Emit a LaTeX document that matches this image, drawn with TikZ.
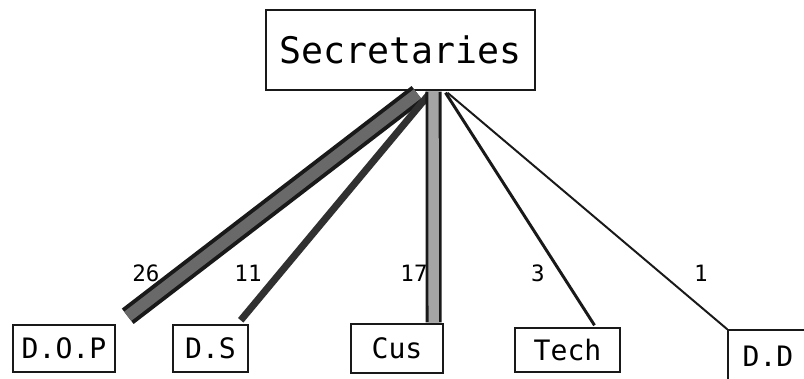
\documentclass[tikz,border=0pt]{standalone}
\usepackage{fontspec}
\setmonofont{DejaVu Sans Mono}
\usetikzlibrary{calc}
\definecolor{inkBlack}{RGB}{25,25,25}
\definecolor{bandDark}{RGB}{105,105,105}
\definecolor{bandLight}{RGB}{165,165,165}
\tikzset{
  orgbox/.style={draw=inkBlack, line width=1pt, inner sep=0pt,
                 font=\ttfamily\fontsize{20}{22}\selectfont},
  topbox/.style={orgbox, font=\ttfamily\fontsize{26}{30}\selectfont},
  count/.style={inner sep=0pt, font=\ttfamily\fontsize{16}{18}\selectfont},
  wideband/.style={draw=inkBlack, line width=2.8pt, double=bandDark, double distance=8.2pt},
  narrowband/.style={draw=inkBlack!90, line width=5pt},
  postband/.style={draw=inkBlack, line width=2pt, double=bandLight, double distance=7.4pt},
  thinlink/.style={draw=inkBlack, line width=2.1pt},
  hairlink/.style={draw=inkBlack, line width=1.4pt}
}

\begin{document}
\begin{tikzpicture}[x=0.025cm, y=-0.025cm]
\useasboundingbox (0,0) rectangle (804,379);
% boxes
\node[topbox, minimum width=6.725cm, minimum height=2cm] (sec) at (400.5,50) {Secretaries};
\node[orgbox, minimum width=2.55cm, minimum height=1.175cm] (dop) at (64,348.5) {D.O.P};
\node[orgbox, minimum width=1.875cm, minimum height=1.175cm] (ds) at (210.5,348.5) {D.S};
\node[orgbox, minimum width=2.3cm, minimum height=1.225cm] (cus) at (397,348.5) {Cus};
\node[orgbox, minimum width=2.625cm, minimum height=1.1cm] (tech) at (567.5,350) {Tech};
\node[orgbox, minimum width=2cm, minimum height=1.3cm] (dd) at (768,356) {D.D};
% links, width by count
\draw[wideband] ($(sec.south)+(17,3)$) -- ($(dop.north east)+(12,-8)$);
\draw[narrowband] ($(sec.south)+(29,3)$) -- ($(ds.north east)+(-8,-4)$);
\draw[postband] ($(sec.south)+(33,1)$) -- ($(cus.north east)+(-10,-1)$);
\draw[thinlink] ($(sec.south)+(45,2)$) -- ($(tech.north)+(27,-2)$);
\draw[hairlink] ($(sec.south)+(47,2)$) -- (dd.north west);
% counts
\node[count] (n26) at (146,273) {26};
\node[count] (n11) at (248,273) {11};
\node[count] (n17) at (414,273) {17};
\node[count] (n3) at (538,273) {3};
\node[count] (n1) at (701,273) {1};
\end{tikzpicture}
\end{document}
